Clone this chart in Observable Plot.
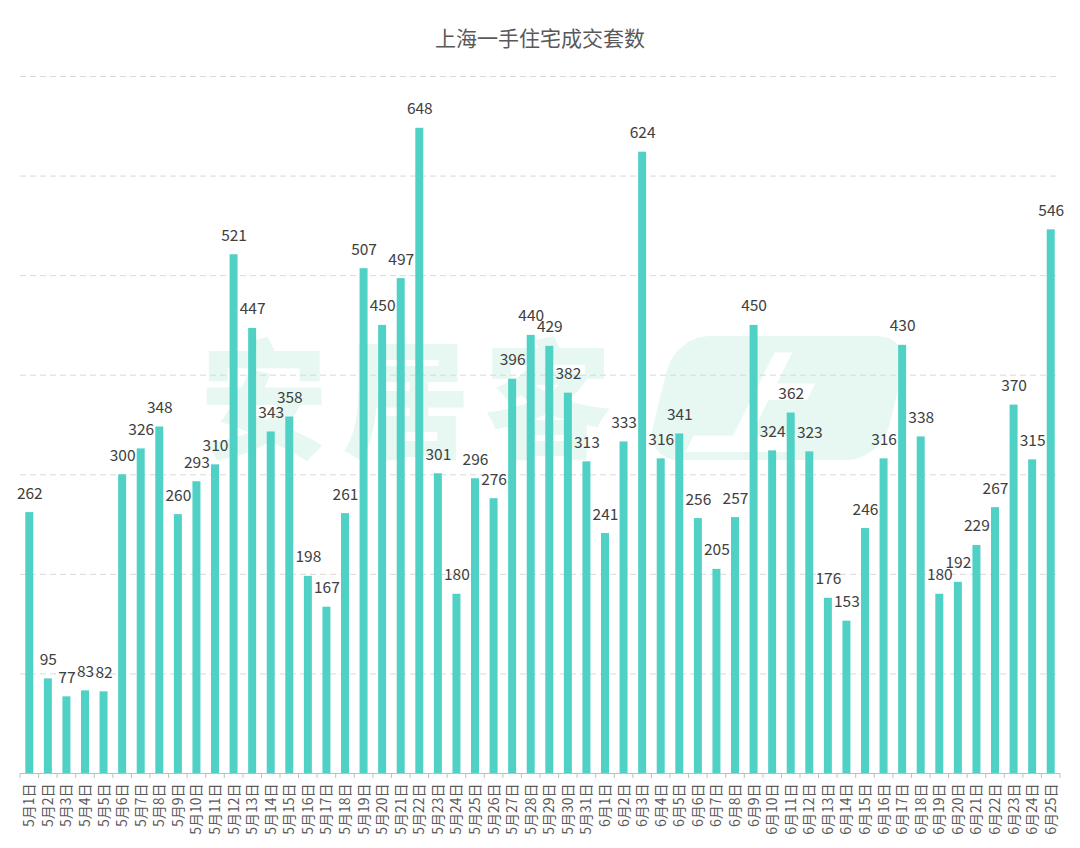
<!DOCTYPE html>
<html>
<head>
<meta charset="utf-8">
<script src="https://cdn.jsdelivr.net/npm/d3@7"></script>
<script src="https://cdn.jsdelivr.net/npm/@observablehq/plot@0.6"></script>
<style>
  html, body { margin: 0; padding: 0; background: #fff; }
  body { width: 1080px; height: 848px; position: relative; overflow: hidden; font-family: "Noto Sans CJK SC", "Noto Sans", sans-serif; }
  #title { position: absolute; left: 0; top: 0; width: 1080px; height: 60px; line-height: 74px; text-align: center; font-size: 21px; color: #595959; }
  #wm { position: absolute; left: 0; top: 0; width: 1080px; height: 848px; z-index: 0; }
  #wm .t { position: absolute; left: 200px; top: 318px; font-size: 128px; font-weight: 900; color: #e6f8f1; letter-spacing: 14px; line-height: 150px; }
  #wm .b { position: absolute; left: 660px; top: 336px; width: 236px; height: 124px; background: #e6f8f1; border-radius: 34px; transform: skewX(-14deg); }
  #wm .b span { position: absolute; left: 36px; top: -8px; font-size: 112px; font-weight: 900; color: #fff; font-style: italic; line-height: 140px; }
  #chart { position: absolute; left: 0; top: 60px; z-index: 1; }
</style>
</head>
<body>
<div id="title">上海一手住宅成交套数</div>
<div id="wm"><div class="t">安居客</div><div class="b"><span>上海</span></div></div>
<div id="chart"></div>
<script>
const dates = [
  "5月1日","5月2日","5月3日","5月4日","5月5日","5月6日","5月7日","5月8日","5月9日","5月10日",
  "5月11日","5月12日","5月13日","5月14日","5月15日","5月16日","5月17日","5月18日","5月19日","5月20日",
  "5月21日","5月22日","5月23日","5月24日","5月25日","5月26日","5月27日","5月28日","5月29日","5月30日",
  "5月31日","6月1日","6月2日","6月3日","6月4日","6月5日","6月6日","6月7日","6月8日","6月9日",
  "6月10日","6月11日","6月12日","6月13日","6月14日","6月15日","6月16日","6月17日","6月18日","6月19日",
  "6月20日","6月21日","6月22日","6月23日","6月24日","6月25日"
];
const values = [
  262, 95, 77, 83, 82, 300, 326, 348, 260, 293,
  310, 521, 447, 343, 358, 198, 167, 261, 507, 450,
  497, 648, 301, 180, 296, 276, 396, 440, 429, 382,
  313, 241, 333, 624, 316, 341, 256, 205, 257, 450,
  324, 362, 323, 176, 153, 246, 316, 430, 338, 180,
  192, 229, 267, 370, 315, 546
];
const gridValues = [100, 200, 300, 400, 500, 600, 700];

const data = dates.map((d, i) => ({date: d, value: values[i]}));

const W = 1080, ML = 20, MR = 20;
const step = (W - ML - MR) / dates.length;

const chart = Plot.plot({
  width: W,
  height: 788,
  marginLeft: ML,
  marginRight: MR,
  marginTop: 16,
  marginBottom: 75,
  style: {background: "transparent", fontFamily: "'Noto Sans CJK SC', 'Noto Sans', sans-serif"},
  x: {domain: dates, paddingInner: 0.57, paddingOuter: 0.285, label: null},
  y: {domain: [0, 700], label: null, axis: null},
  marks: [
    Plot.ruleY(gridValues, {y: d => d, stroke: "#d9d9d9", strokeDasharray: "6,4", strokeWidth: 1}),
    Plot.barY(data, {x: "date", y: "value", fill: "#4fd1c5"}),
    Plot.ruleY([0], {stroke: "#bfbfbf", strokeWidth: 1}),
    Plot.axisX({tickSize: 0, tickPadding: 10, tickRotate: -90, fontSize: 14, fill: "#595959", label: null}),
    Plot.text(data, {x: "date", y: "value", text: d => String(d.value), dy: -19, fontSize: 15.5, fill: "#404040"})
  ]
});
document.getElementById("chart").appendChild(chart);

// boundary tick marks below the axis, placed with the x scale
const svg = d3.select(chart);
const xs = chart.scale("x");
const y0 = chart.scale("y").apply(0);
const gap = (step - xs.bandwidth) / 2;
const bounds = dates.map(d => xs.apply(d) - gap)
  .concat([xs.apply(dates[dates.length - 1]) + xs.bandwidth + gap]);
svg.append("g").selectAll("line").data(bounds).join("line")
  .attr("x1", d => d).attr("x2", d => d)
  .attr("y1", y0).attr("y2", y0 + 5)
  .attr("stroke", "#bfbfbf");
</script>
</body>
</html>
